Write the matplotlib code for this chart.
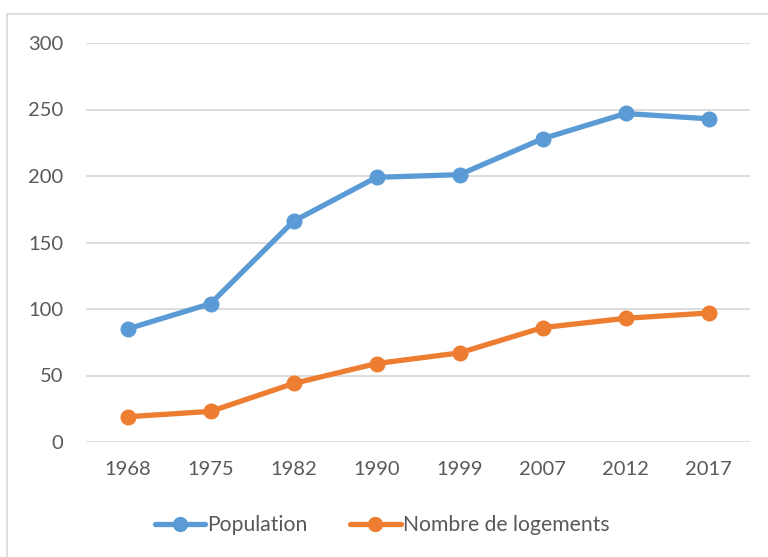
import matplotlib
matplotlib.use("Agg")
import matplotlib.pyplot as plt
from matplotlib.patches import Rectangle

years = ["1968", "1975", "1982", "1990", "1999", "2007", "2012", "2017"]
population = [85, 104, 166, 199, 201, 228, 247, 243]
logements = [19, 23, 44, 59, 67, 86, 93, 97]
yticks = [0, 50, 100, 150, 200, 250, 300]

plt.rcParams["font.family"] = ["Lato", "DejaVu Sans"]

W, H = 768, 557
fig = plt.figure(figsize=(W / 100, H / 100), dpi=100)
# plot area in pixels: x 86..750, y 43..442
ax = fig.add_axes([86 / W, 1 - 442 / H, (750 - 86) / W, (442 - 43) / H])

x = list(range(len(years)))
ax.plot(x, population, color="#5B9BD5", lw=3.8, marker="o", ms=10.5,
        solid_capstyle="round", label="Population", zorder=3)
ax.plot(x, logements, color="#ED7D31", lw=3.8, marker="o", ms=10.5,
        solid_capstyle="round", label="Nombre de logements", zorder=3)

ax.set_xlim(-0.5, len(years) - 0.5)
ax.set_ylim(0, 300)
ax.set_yticks(yticks)
ax.set_xticks(x)
ax.set_xticklabels(years)
ax.grid(axis="y", color="#D9D9D9", lw=1.3)
ax.set_axisbelow(True)
for s in ax.spines.values():
    s.set_visible(False)
ax.tick_params(length=0, labelsize=14.5, labelcolor="#595959")
ax.tick_params(axis="y", pad=16.5)
ax.tick_params(axis="x", pad=14)

leg = fig.legend(loc="center", bbox_to_anchor=(382 / W, 1 - 525 / H), ncol=2,
                 frameon=False, fontsize=15.2, handlelength=2.4,
                 columnspacing=2.0, handletextpad=0.1, markerscale=0.95)
for t in leg.get_texts():
    t.set_color("#595959")

# chart border
fig.patches.append(Rectangle((7 / W, -0.05), 1.1, 1 - 14 / H + 0.05,
                             transform=fig.transFigure, fill=False,
                             edgecolor="#D9D9D9", lw=1.2))

fig.savefig("out.png", dpi=100)
